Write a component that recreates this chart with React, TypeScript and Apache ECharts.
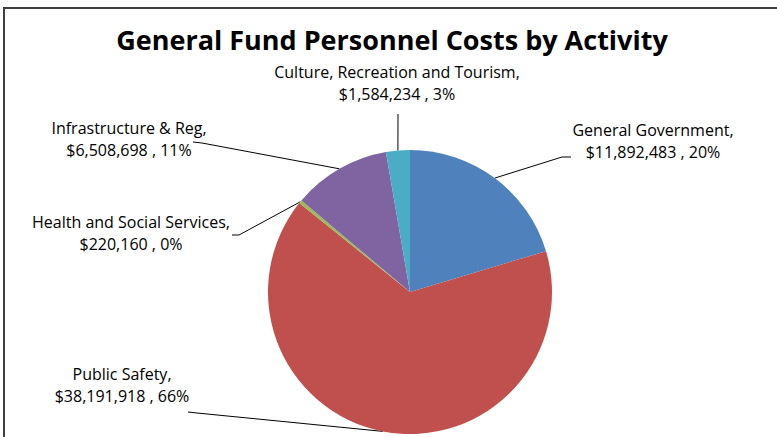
import React, { useEffect, useRef } from "react";
import * as echarts from "echarts";

const categories = [
  "General Government",
  "Public Safety",
  "Health and Social Services",
  "Infrastructure & Reg",
  "Culture, Recreation and Tourism",
];
const values = [11892483, 38191918, 220160, 6508698, 1584234];
const percentLabels = [20, 66, 0, 11, 3];
const colors = ["#4F81BD", "#C0504D", "#9BBB59", "#8064A2", "#4BACC6"];

// label placement (text center x, text middle y) and leader-line bend points
const labelPlacement = [
  { x: 653, y: 141, line: [[562, 157], [571, 157]] },
  { x: 122, y: 385, line: [[197, 413], [188, 412]] },
  { x: 131, y: 233, line: [[239, 235], [232, 235]] },
  { x: 129, y: 139, line: [[202, 143], [193, 142]] },
  { x: 397, y: 83, line: [[398, 114]] },
];

const FONT = "'Open Sans', Lato, sans-serif";

function fmtMoney(v: number) {
  return "$" + v.toLocaleString("en-US");
}

export default function App() {
  const ref = useRef<HTMLDivElement>(null);
  useEffect(() => {
    document.body.style.margin = "0";
    if (!ref.current) return;
    const chart = echarts.init(ref.current, undefined, { renderer: "svg" });
    const cx = 410;
    const cy = 292;
    const r = 142;
    chart.setOption({
      animation: false,
      backgroundColor: "#ffffff",
      title: {
        text: "General Fund Personnel Costs by Activity",
        left: 387,
        top: 21,
        textAlign: "center",
        textStyle: {
          fontFamily: FONT,
          fontWeight: "bold",
          fontSize: 27,
          color: "#000000",
        },
      },
      graphic: [
        {
          type: "polyline",
          shape: { points: [[4, 437], [4, 8], [777, 8]] },
          style: { stroke: "#3f3f3f", lineWidth: 2, fill: "none" },
          silent: true,
        },
      ],
      series: [
        {
          type: "pie",
          center: [cx, cy],
          radius: r,
          startAngle: 90,
          clockwise: true,
          avoidLabelOverlap: false,
          data: categories.map((name, i) => ({
            name,
            value: values[i],
            itemStyle: { color: colors[i] },
          })),
          itemStyle: { borderWidth: 0 },
          label: {
            show: true,
            position: "outside",
            fontFamily: FONT,
            fontSize: 16,
            lineHeight: 22,
            color: "#000000",
            align: "center",
            formatter: (p: any) =>
              `${p.name},\n${fmtMoney(p.value)} , ${percentLabels[p.dataIndex]}%`,
          },
          labelLine: {
            show: true,
            length: 10,
            length2: 10,
            lineStyle: { color: "#000000", width: 1 },
          },
          labelLayout: (params: any) => {
            const pl = labelPlacement[params.dataIndex];
            const pts = params.labelLinePoints;
            let anchor: number[];
            if (pts && pts.length) {
              anchor = pts[0];
            } else {
              let start = 0;
              const total = values.reduce((a, b) => a + b, 0);
              for (let k = 0; k < params.dataIndex; k++) start += values[k];
              const mid = ((start + values[params.dataIndex] / 2) / total) * Math.PI * 2;
              anchor = [cx + r * Math.sin(mid), cy - r * Math.cos(mid)];
            }
            const linePts = [anchor, ...pl.line];
            if (linePts.length === 2) linePts.push(pl.line[0]);
            return {
              x: pl.x,
              y: pl.y,
              align: "center",
              verticalAlign: "middle",
              labelLinePoints: linePts,
            };
          },
          emphasis: { disabled: true },
        },
      ],
    });
    return () => chart.dispose();
  }, []);
  return <div ref={ref} style={{ width: 777, height: 437 }} />;
}
